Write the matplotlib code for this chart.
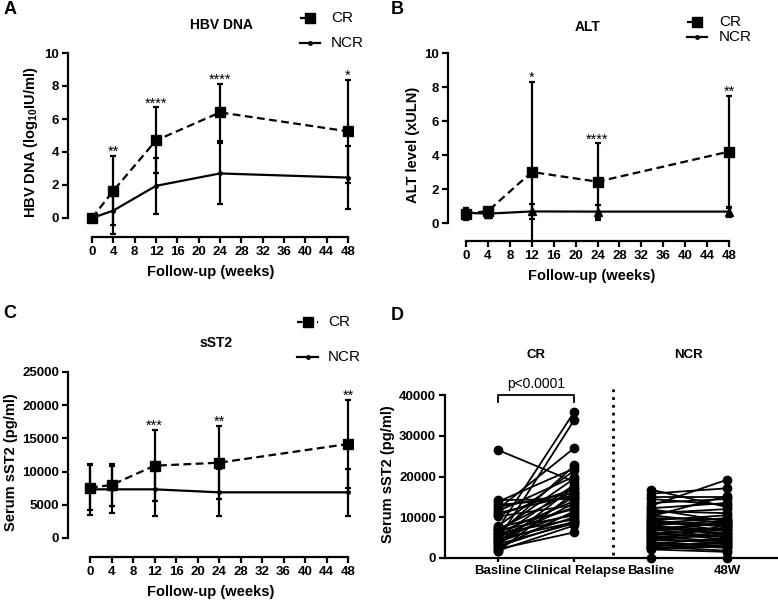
import numpy as np
import matplotlib.pyplot as plt
from matplotlib.lines import Line2D

plt.rcParams['font.family'] = ['Liberation Sans', 'DejaVu Sans']
plt.rcParams['font.weight'] = 'bold'
plt.rcParams['axes.labelweight'] = 'bold'
plt.rcParams['mathtext.fontset'] = 'custom'
plt.rcParams['mathtext.rm'] = 'Liberation Sans:bold'
plt.rcParams['mathtext.bf'] = 'Liberation Sans:bold'

# %% data
weeks = [0, 4, 12, 24, 48]

# HBV DNA (log10 IU/ml), mean / SD
hbv_cr = [0, 1.65, 4.7, 6.4, 5.25]
hbv_cr_sd = [0, 2.1, 2.0, 1.75, 3.1]
hbv_ncr = [0, 0.45, 1.95, 2.7, 2.45]
hbv_ncr_sd = [0, 1.4, 1.7, 1.85, 1.9]
hbv_stars = ['', '**', '****', '****', '*']

# ALT (xULN)
alt_cr = [0.55, 0.7, 3.0, 2.43, 4.2]
alt_cr_sd = [0.35, 0.2, 5.3, 2.25, 3.3]
alt_ncr = [0.6, 0.55, 0.68, 0.67, 0.67]
alt_ncr_sd = [0.3, 0.25, 0.42, 0.38, 0.3]
alt_stars = ['', '', '*', '****', '**']

# sST2 (pg/ml)
st2_cr = [7580, 7980, 10890, 11340, 14160]
st2_cr_sd = [3400, 3160, 5380, 5530, 6620]
st2_ncr = [7330, 7330, 7330, 6880, 6880]
st2_ncr_sd = [3870, 3520, 3970, 3520, 3520]
st2_stars = ['', '', '***', '**', '**']

# paired sST2, panel D
d_labels = ['Basline', 'Clinical Relapse', 'Basline', '48W']
cr_base = [26500, 14200, 13800, 13000, 12500, 12000, 11500, 11000, 10500, 10200,
           7800, 7500, 7200, 7000, 6800, 6500, 6200, 6000, 5800, 5500,
           5200, 5000, 4700, 4500, 4200, 4000, 3700, 3400, 3100, 2800,
           2500, 2200, 1800, 1600]
cr_relapse = [18700, 14500, 22000, 14800, 16000, 27000, 20000, 15500, 17000, 13000,
              21500, 12000, 35900, 16500, 10500, 19500, 14000, 9500, 22700, 12500,
              11000, 18000, 8800, 33900, 15000, 10000, 13500, 8500, 17500, 9000,
              11500, 6300, 8000, 16000]
ncr_base = [16800, 15800, 15000, 14500, 13500, 12800, 12200, 12000, 11500, 11000,
            10500, 10200, 9800, 9500, 9200, 9000, 8700, 8500, 8200, 8000,
            7700, 7500, 7200, 7000, 6800, 6500, 6300, 6000, 5800, 5500,
            5300, 5000, 4800, 4500, 4300, 4000, 3800, 3500, 3300, 3000,
            2800, 2500, 2300, 2100, 0]
ncr_48w = [12500, 17100, 15000, 13000, 14500, 19200, 13500, 9000, 11000, 12000,
           8500, 15200, 9500, 6500, 10500, 8000, 7800, 9800, 5500, 9200,
           7000, 6000, 8500, 5000, 7200, 9000, 4500, 6800, 5200, 7500,
           4000, 6200, 3500, 5800, 4200, 8200, 3000, 4800, 2500, 3800,
           1800, 3200, 2800, 1500, 0]

# %% layout helpers (pixel coords, origin top-left)
W, H = 778, 605
fig = plt.figure(figsize=(W / 100, H / 100), dpi=100)


def make_axes(left, top, right, bottom):
    return fig.add_axes([left / W, 1 - bottom / H, (right - left) / W, (bottom - top) / H])


def data_lims(p0, v0, p1, v1, a, b):
    k = (v1 - v0) / (p1 - p0)
    return v0 + (a - p0) * k, v0 + (b - p0) * k


def style(ax):
    for s in ['top', 'right']:
        ax.spines[s].set_visible(False)
    for s in ['left', 'bottom']:
        ax.spines[s].set_linewidth(1.6)
    ax.tick_params(direction='out', length=4.5, width=1.6, labelsize=9.5, pad=2)


def time_panel(ax, cr, cr_sd, ncr, ncr_sd, stars, ymax, ystep, ncr_marker, ncr_ms):
    ax.errorbar(weeks, ncr, yerr=ncr_sd, color='black', lw=1.6, marker=ncr_marker,
                ms=ncr_ms, capsize=2.5, capthick=1.6, elinewidth=1.6)
    ax.errorbar(weeks, cr, yerr=cr_sd, color='black', lw=1.6, ls=(0, (3.5, 2)),
                marker='s', ms=6.5, capsize=2.5, capthick=1.6, elinewidth=1.6)
    for w, m, sd, s in zip(weeks, cr, cr_sd, stars):
        if s:
            ax.annotate(s, (w, m + sd), xytext=(0, 0), textcoords='offset points',
                        ha='center', va='baseline', fontsize=10.5, fontweight='normal')
    style(ax)
    ax.spines['left'].set_bounds(0, ymax)
    ax.spines['bottom'].set_bounds(0, 48)
    ax.set_xticks(range(0, 49, 4))
    ax.set_yticks(np.arange(0, ymax + 1, ystep))
    ax.set_xlabel('Follow-up (weeks)', fontsize=10.5, labelpad=5)


def legend(xh0, xh1, xt, y_cr, y_ncr, ncr_marker, ncr_ms):
    fx = lambda x: x / W
    fy = lambda y: 1 - y / H
    xm = (xh0 + xh1) / 2
    fig.add_artist(Line2D([fx(xh0), fx(xh1)], [fy(y_cr)] * 2, color='black', lw=1.6,
                          ls=(0, (2.5, 2))))
    fig.add_artist(Line2D([fx(xm)], [fy(y_cr)], color='black', marker='s', ms=6.5))
    fig.add_artist(Line2D([fx(xh0), fx(xh1)], [fy(y_ncr)] * 2, color='black', lw=1.6))
    fig.add_artist(Line2D([fx(xm)], [fy(y_ncr)], color='black', marker=ncr_marker, ms=ncr_ms))
    fig.text(fx(xt), fy(y_cr), 'CR', fontsize=11, fontweight='normal', va='center')
    fig.text(fx(xt), fy(y_ncr), 'NCR', fontsize=11, fontweight='normal', va='center')


# %% A
axA = make_axes(68, 48, 353, 237)
axA.set_xlim(data_lims(92, 0, 348, 48, 68, 353))
axA.set_ylim(data_lims(218, 0, 53, 10, 237, 48))
time_panel(axA, hbv_cr, hbv_cr_sd, hbv_ncr, hbv_ncr_sd, hbv_stars, 10, 2, 'o', 2.5)
axA.set_ylabel('HBV DNA (log$_{10}$IU/ml)', fontsize=10.5, labelpad=3)
fig.text(221 / W, 1 - 25 / H, 'HBV DNA', ha='center', va='center', fontsize=10)
legend(300, 320, 331, 18, 43, 'o', 2.5)

# %% B
axB = make_axes(448, 48, 735, 241)
axB.set_xlim(data_lims(466, 0, 729, 48, 448, 735))
axB.set_ylim(data_lims(223, 0, 53, 10, 241, 48))
time_panel(axB, alt_cr, alt_cr_sd, alt_ncr, alt_ncr_sd, alt_stars, 10, 2, '^', 5.5)
axB.set_ylabel('ALT level (xULN)', fontsize=10.5, labelpad=3)
fig.text(588 / W, 1 - 27 / H, 'ALT', ha='center', va='center', fontsize=10)
legend(687, 707, 719, 22, 37, 'o', 2.5)

# %% C
axC = make_axes(68, 367, 353, 557)
axC.set_xlim(data_lims(90, 0, 348, 48, 68, 353))
axC.set_ylim(data_lims(538, 0, 372, 25000, 557, 367))
time_panel(axC, st2_cr, st2_cr_sd, st2_ncr, st2_ncr_sd, st2_stars, 25000, 5000, 'o', 2.5)
axC.set_ylabel('Serum sST2 (pg/ml)', fontsize=10.5, labelpad=3)
fig.text(216 / W, 1 - 343 / H, 'sST2', ha='center', va='center', fontsize=10)
legend(297, 318, 328, 322, 357, 'o', 2.5)

# %% D
axD = make_axes(445, 390, 778, 558)
axD.set_xlim(data_lims(498, 0, 727, 3, 445, 778))
axD.set_ylim(data_lims(558, 0, 395, 40000, 558, 390))
for b, r in zip(cr_base, cr_relapse):
    axD.plot([0, 1], [b, r], color='black', lw=1.3, marker='o', ms=6, clip_on=False)
for b, r in zip(ncr_base, ncr_48w):
    axD.plot([2, 3], [b, r], color='black', lw=1.3, marker='o', ms=6, clip_on=False)
style(axD)
axD.spines['left'].set_bounds(0, 40000)
axD.set_yticks(range(0, 40001, 10000))
axD.set_xticks(range(4))
axD.set_xticklabels(d_labels)
axD.tick_params(axis='x', length=3)
axD.set_ylabel('Serum sST2 (pg/ml)', fontsize=10.5, labelpad=3)
axD.plot([1.5, 1.5], [700, 42400], color='black', lw=2, ls=(0, (1, 1.8)), clip_on=False)
axD.plot([0, 0, 1, 1], [38300, 40000, 40000, 38300], color='black', lw=1.3, clip_on=False)
axD.text(0.5, 41000, 'p<0.0001', ha='center', va='bottom', fontsize=10, fontweight='normal')
axD.text(0.5, 49800, 'CR', ha='center', va='center', fontsize=9.5)
axD.text(2.5, 49800, 'NCR', ha='center', va='center', fontsize=9.5)

# panel letters
for x, y, s in [(10, 10, 'A'), (397, 10, 'B'), (10, 313, 'C'), (397, 316, 'D')]:
    fig.text(x / W, 1 - y / H, s, ha='center', va='center', fontsize=13)

plt.savefig('out.png', dpi=100)
